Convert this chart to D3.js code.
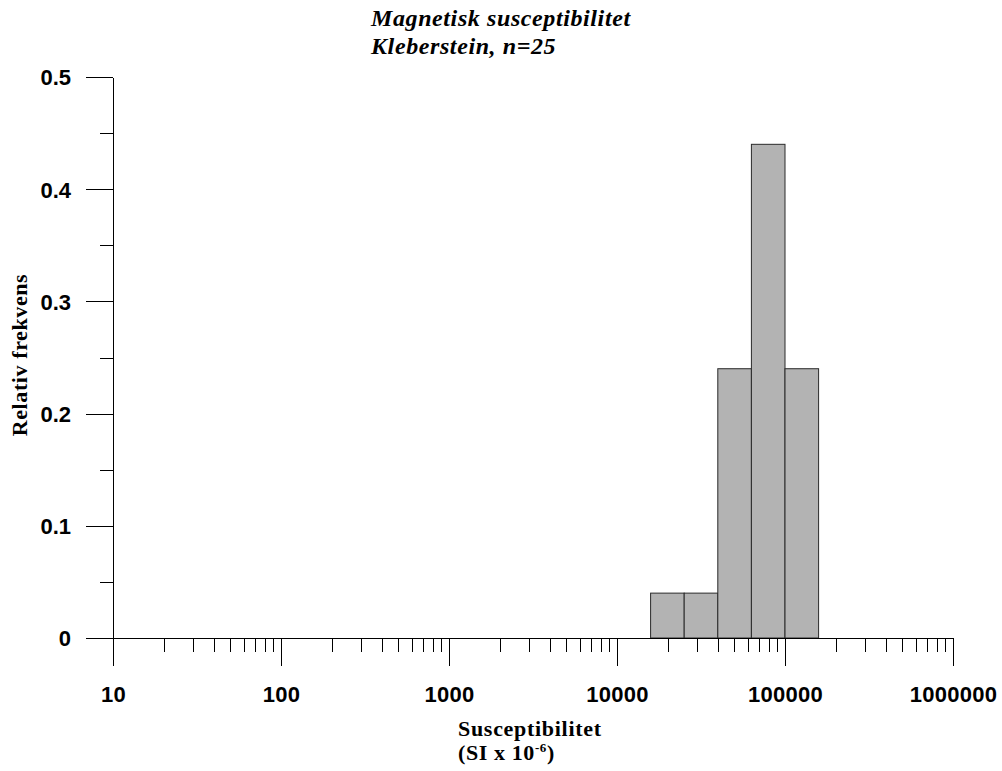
<!DOCTYPE html>
<html>
<head>
<meta charset="utf-8">
<script src="https://cdn.jsdelivr.net/npm/d3@7"></script>
<style>
body { margin: 0; background: #fff; }
.axis path, .axis line { stroke: #000; shape-rendering: crispEdges; }
.tick text { font-family: "Liberation Sans", Arial, sans-serif; font-weight: bold; font-size: 22px; fill: #000; }
.ttl { font-family: "Liberation Serif", "Times New Roman", serif; font-weight: bold; fill: #000; }
</style>
</head>
<body>
<script>
var width = 1002;
var height = 771;

// histogram data (log10 bins, 0.2 decade wide)
var binEdges = [15849, 25119, 39811, 63096, 100000, 158489];
var freq = [0.04, 0.04, 0.24, 0.44, 0.24];

var xMajor = [10, 100, 1000, 10000, 100000, 1000000];
var xLabels = ["10", "100", "1000", "10000", "100000", "1000000"];
var yMajor = [0, 0.1, 0.2, 0.3, 0.4, 0.5];
var yLabels = ["0", "0.1", "0.2", "0.3", "0.4", "0.5"];
var yMinor = [0.05, 0.15, 0.25, 0.35, 0.45];

var titleLines = ["Magnetisk susceptibilitet", "Kleberstein, n=25"];

var x = d3.scaleLog()
	.domain([10, 1000000])
	.range([113, 953]);

var y = d3.scaleLinear()
	.domain([0, 0.5])
	.range([638, 77]);

var svg = d3.select("body").append("svg")
	.attr("width", width)
	.attr("height", height);

// minor x ticks 2..9 of every decade
var xMinor = [];
xMajor.slice(0, -1).forEach(function(d) {
	for (var k = 2; k <= 9; k++) xMinor.push(d * k);
});

// bars
svg.selectAll("rect.bar")
	.data(freq)
	.enter().append("rect")
	.attr("class", "bar")
	.attr("x", function(d, i) { return x(binEdges[i]); })
	.attr("width", function(d, i) { return x(binEdges[i + 1]) - x(binEdges[i]); })
	.attr("y", function(d) { return y(d); })
	.attr("height", function(d) { return y(0) - y(d); })
	.style("fill", "#b3b3b3")
	.style("stroke", "#2a2a2a")
	.style("stroke-width", 1);

// x axis
svg.append("g")
	.attr("class", "axis")
	.attr("transform", "translate(0," + y(0) + ")")
	.call(d3.axisBottom(x).tickValues(xMinor).tickSize(14).tickFormat("").tickSizeOuter(0));

var xAx = svg.append("g")
	.attr("class", "axis")
	.attr("transform", "translate(0," + y(0) + ")")
	.call(d3.axisBottom(x).tickValues(xMajor).tickSize(28).tickSizeOuter(0)
		.tickFormat(function(d, i) { return xLabels[i]; }));
xAx.selectAll("text").attr("y", 64).attr("dy", 0).style("letter-spacing", "0.3px");

// y axis
svg.append("g")
	.attr("class", "axis")
	.attr("transform", "translate(" + x(10) + ",0)")
	.call(d3.axisLeft(y).tickValues(yMinor).tickSize(13).tickFormat("").tickSizeOuter(0));

var yAx = svg.append("g")
	.attr("class", "axis")
	.attr("transform", "translate(" + x(10) + ",0)")
	.call(d3.axisLeft(y).tickValues(yMajor).tickSize(27).tickSizeOuter(0)
		.tickFormat(function(d, i) { return yLabels[i]; }));
yAx.selectAll("text").attr("x", -42).attr("dy", "0.36em");

// title
svg.selectAll("text.title")
	.data(titleLines)
	.enter().append("text")
	.attr("class", "ttl title")
	.attr("x", 371)
	.attr("y", function(d, i) { return 26 + i * 28; })
	.style("font-size", "24px")
	.style("font-style", "italic")
	.style("letter-spacing", "0.6px")
	.text(function(d) { return d; });

// x title
svg.append("text")
	.attr("class", "ttl")
	.attr("x", 458)
	.attr("y", 736)
	.style("font-size", "22px")
	.style("letter-spacing", "0.7px")
	.text("Susceptibilitet");

var sub = svg.append("text")
	.attr("class", "ttl")
	.attr("x", 458)
	.attr("y", 760)
	.style("font-size", "22px")
	.style("letter-spacing", "0.6px");
sub.append("tspan").text("(SI x 10");
sub.append("tspan").attr("dy", -8).style("font-size", "13px").text("-6");
sub.append("tspan").attr("dy", 8).text(")");

// y title
svg.append("text")
	.attr("class", "ttl")
	.attr("transform", "translate(27,355) rotate(-90)")
	.style("text-anchor", "middle")
	.style("font-size", "22px")
	.style("letter-spacing", "0.6px")
	.text("Relativ frekvens");
</script>
</body>
</html>
